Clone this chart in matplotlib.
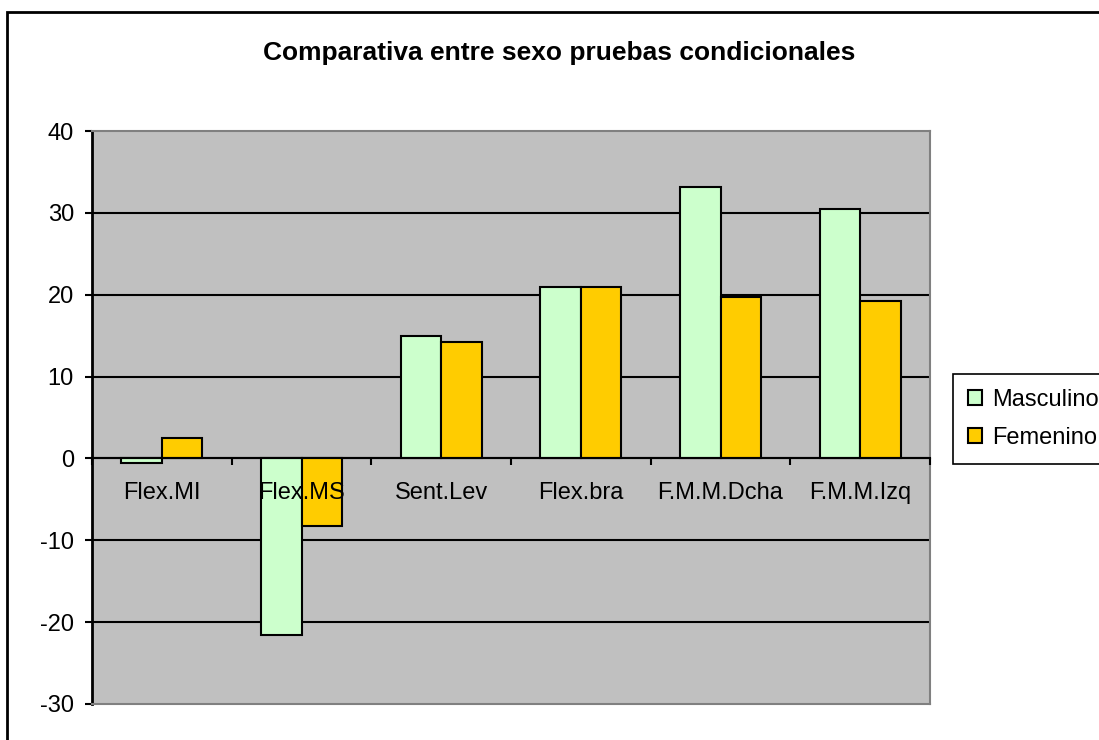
import matplotlib
matplotlib.use("Agg")
import matplotlib.pyplot as plt
from matplotlib.patches import Patch, Rectangle
from matplotlib.lines import Line2D
import numpy as np

categories = ["Flex.MI", "Flex.MS", "Sent.Lev", "Flex.bra", "F.M.M.Dcha", "F.M.M.Izq"]
masculino = [-0.5, -21.6, 15.0, 21.0, 33.1, 30.5]
femenino = [2.5, -8.2, 14.2, 21.0, 19.7, 19.2]
series_names = ["Masculino", "Femenino"]
yticks = [-30, -20, -10, 0, 10, 20, 30, 40]
title = "Comparativa entre sexo pruebas condicionales"

plt.rcParams['font.family'] = ['Liberation Sans', 'DejaVu Sans']

W, H = 1099, 740
fig = plt.figure(figsize=(W / 100, H / 100), dpi=100)
fig.patch.set_facecolor('white')

# outer chart frame
fig.patches.append(Rectangle((7 / W, -0.1), 1.2, (1 - 12 / H) + 0.1,
                             transform=fig.transFigure, fill=False,
                             edgecolor='black', linewidth=2.0, zorder=0))

ax = fig.add_axes([92 / W, 1 - 704 / H, (930 - 92) / W, (704 - 131) / H])
ax.set_facecolor('#C0C0C0')

# horizontal gridlines behind bars
for v in yticks[1:-1]:
    ax.axhline(v, color='black', linewidth=1.5, zorder=1)

x = np.arange(len(categories))
bw = 0.29
ax.bar(x - bw / 2, masculino, width=bw, color='#CCFFCC', edgecolor='black',
       linewidth=1.5, zorder=2)
ax.bar(x + bw / 2, femenino, width=bw, color='#FFCC00', edgecolor='black',
       linewidth=1.5, zorder=2)

ax.set_xlim(-0.5, len(categories) - 0.5)
ax.set_ylim(yticks[0], yticks[-1])
ax.set_yticks(yticks)
ax.set_yticklabels([str(v) for v in yticks], fontsize=17)
ax.tick_params(axis='y', direction='out', length=5, width=1.5, color='black', pad=8)

# category axis crossing at zero
ax.spines['bottom'].set_position(('data', 0))
ax.spines['bottom'].set_color('black')
ax.spines['bottom'].set_linewidth(1.5)
ax.spines['bottom'].set_zorder(4)
ax.set_xticks(x)
ax.set_xticklabels(categories, fontsize=17)
ax.tick_params(axis='x', which='major', length=0, pad=17)
ax.set_xticks(np.arange(len(categories) + 1) - 0.5, minor=True)
ax.tick_params(axis='x', which='minor', direction='out', length=5, width=1.5, color='black')
ax.xaxis.set_zorder(3)

ax.spines['left'].set_color('black')
ax.spines['left'].set_linewidth(2)
for s in ['top', 'right']:
    ax.spines[s].set_color('#808080')
    ax.spines[s].set_linewidth(1.5)
ax.add_line(Line2D([0, 1], [0, 0], transform=ax.transAxes, color='#808080',
                   linewidth=1.5, clip_on=False, zorder=5))

fig.text(559 / W, 1 - 53 / H, title, ha='center', va='center',
         fontsize=19, fontweight='bold')

handles = [Patch(facecolor='#CCFFCC', edgecolor='black', linewidth=1.5),
           Patch(facecolor='#FFCC00', edgecolor='black', linewidth=1.5)]
leg = fig.legend(handles, series_names, loc='upper left',
                 bbox_to_anchor=(953 / W, 1 - 374 / H),
                 bbox_transform=fig.transFigure, fontsize=17,
                 handlelength=0.6, handleheight=0.6, handletextpad=0.45,
                 labelspacing=0.69, borderpad=0.62, borderaxespad=0,
                 fancybox=False, framealpha=1)
leg.get_frame().set_edgecolor('black')
leg.get_frame().set_linewidth(1.2)

fig.savefig('out.png', dpi=100)
